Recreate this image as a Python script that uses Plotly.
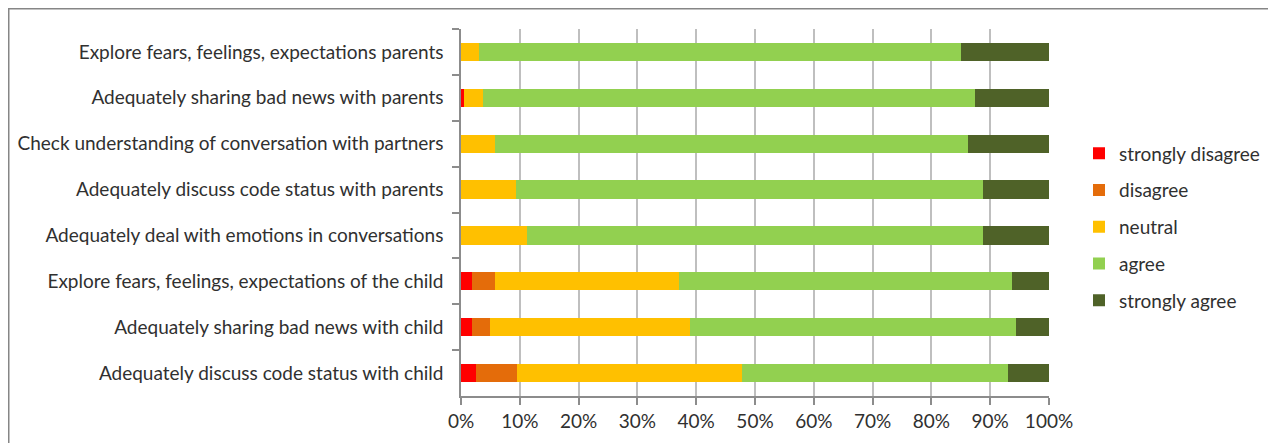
import plotly.graph_objects as go

categories = [
    "Explore fears, feelings, expectations parents",
    "Adequately sharing bad news with parents",
    "Check understanding of conversation with partners",
    "Adequately discuss code status with parents",
    "Adequately deal with emotions in conversations",
    "Explore fears, feelings, expectations of the child",
    "Adequately sharing bad news with child",
    "Adequately discuss code status with child",
]
strongly_disagree = [0.0, 0.005, 0.0, 0.0, 0.0, 0.019, 0.019, 0.025]
disagree = [0.0, 0.0, 0.0, 0.0, 0.0, 0.038, 0.031, 0.070]
neutral = [0.031, 0.033, 0.057, 0.093, 0.113, 0.314, 0.340, 0.383]
agree = [0.819, 0.836, 0.806, 0.795, 0.775, 0.566, 0.554, 0.452]
strongly_agree = [0.150, 0.126, 0.137, 0.112, 0.112, 0.063, 0.056, 0.070]

series = [
    ("strongly disagree", strongly_disagree, "#FF0000"),
    ("disagree", disagree, "#E46C0A"),
    ("neutral", neutral, "#FFC000"),
    ("agree", agree, "#92D050"),
    ("strongly agree", strongly_agree, "#4F6228"),
]

x_ticks = [i / 10 for i in range(11)]
x_tick_text = [f"{i*10}%" for i in range(11)]

FONT = "Lato"
FS = 19
fig = go.Figure()
for name, vals, color in series:
    fig.add_trace(go.Bar(
        y=categories, x=vals, name=name, orientation="h",
        marker=dict(color=color, line=dict(width=0)),
        legendgroup=name,
    ))

# page has an 8px body margin; figure coords = screen coords - 8
OFF = 8
W, H = 1276 - OFF, 443 - OFF
L, R, T, B = 461 - OFF, 1049 - OFF, 29 - OFF, 396 - OFF
pw, ph = R - L, B - T

def px_x(p):
    return (p - L) / pw

def px_y(p):
    return (B - p) / ph

fig.update_layout(
    width=W, height=H,
    barmode="stack",
    bargap=0.6,
    margin=dict(l=L, r=W - R, t=T, b=H - B, pad=0, autoexpand=False),
    paper_bgcolor="white",
    plot_bgcolor="white",
    font=dict(family=FONT, size=FS, color="#303030"),
    xaxis=dict(
        range=[0, 1],
        tickvals=x_ticks,
        ticktext=x_tick_text,
        showgrid=True, gridcolor="#BFBFBF", gridwidth=1.5,
        zeroline=False,
        showline=True, linecolor="#8C8C8C", linewidth=1.5,
        ticks="outside", ticklen=7, tickcolor="#8C8C8C", tickwidth=1.5,
        tickfont=dict(family=FONT, size=FS, color="#303030"),
        fixedrange=True,
    ),
    yaxis=dict(
        autorange="reversed",
        showgrid=False,
        showline=True, linecolor="#8C8C8C", linewidth=1.5,
        ticks="outside", ticklen=7, tickcolor="#8C8C8C", tickwidth=1.5,
        tickson="boundaries",
        ticklabelstandoff=12,
        tickfont=dict(family=FONT, size=FS, color="#303030"),
        fixedrange=True,
    ),
    legend=dict(
        x=px_x(1071), y=px_y(227 - OFF), xanchor="left", yanchor="middle",
        traceorder="grouped", tracegroupgap=9,
        font=dict(family=FONT, size=FS, color="#303030"),
        bgcolor="rgba(0,0,0,0)",
    ),
    shapes=[dict(
        type="rect", xref="paper", yref="paper",
        x0=px_x(0.5), x1=px_x(1300), y0=px_y(470), y1=px_y(0.5),
        line=dict(color="#868686", width=2), fillcolor="rgba(0,0,0,0)",
        layer="below",
    )],
)

fig.write_html("out.html")
